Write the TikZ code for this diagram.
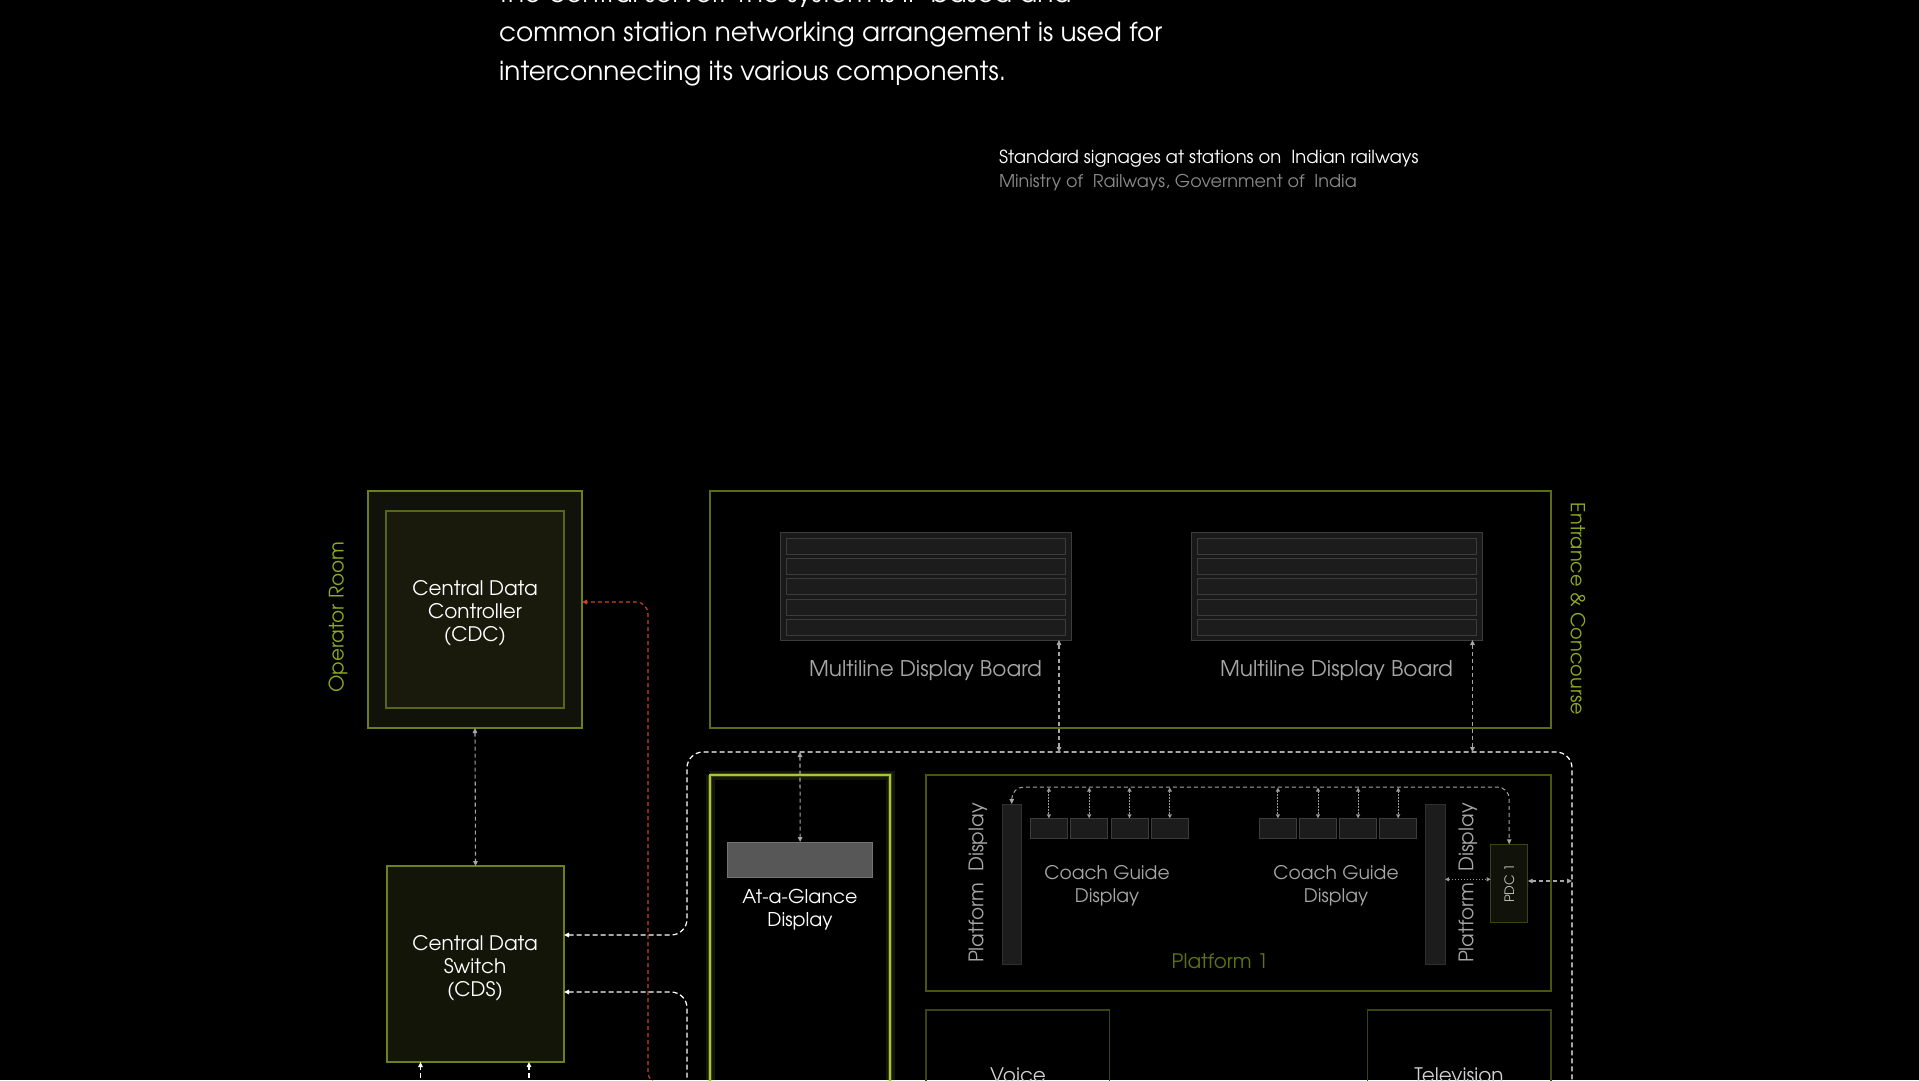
\documentclass[tikz,border=0pt]{standalone}
\usepackage{fontspec}
\setmainfont{texgyreadventor}[Extension=.otf, UprightFont=*-regular, BoldFont=*-bold]
\usetikzlibrary{arrows.meta}
\definecolor{olA}{HTML}{6B7F1C}
\definecolor{olB}{HTML}{56661A}
\definecolor{olC}{HTML}{5A6C15}
\definecolor{olD}{HTML}{48560F}
\definecolor{olE}{HTML}{3A4410}
\definecolor{grn}{HTML}{8DAA23}
\definecolor{grnD}{HTML}{5E7313}
\definecolor{glowc}{HTML}{A8C53A}
\definecolor{fillA}{HTML}{111209}
\definecolor{fillB}{HTML}{191A0C}
\definecolor{fillC}{HTML}{141509}
\definecolor{redc}{HTML}{C9441C}
\definecolor{txtg}{HTML}{A6A6A6}
\definecolor{rowf}{HTML}{1C1C1C}
\definecolor{rowd}{HTML}{3C3C3C}
\definecolor{credg}{HTML}{8A8A8A}
\tikzset{
  every node/.style={inner sep=0pt, outer sep=0pt},
  >={Triangle[length=5pt,width=4.5pt]},
  box/.style={draw, line width=1.3pt, anchor=north west, align=center, text=white},
  lbl/.style={font=\fontsize{20}{23}\selectfont, align=center},
  board/.style={draw=rowd, fill=black!90!white, line width=1pt, anchor=north west},
  rowbox/.style={draw=rowd, fill=rowf, line width=1pt, anchor=north west},
  coach/.style={draw=rowd, fill=rowf, line width=0.8pt, anchor=north west, minimum width=37, minimum height=20.4},
  pbar/.style={draw=rowd!80!black, fill=rowf, line width=0.8pt, anchor=north west, minimum width=19.5, minimum height=160},
  wconn/.style={draw=white, line width=1.2pt, dash pattern=on 5pt off 3pt},
  gconn/.style={draw=black!35!white, line width=1.1pt, dash pattern=on 4pt off 3pt},
  dconn/.style={draw=black!40!white, line width=1pt, dash pattern=on 1.5pt off 1.5pt, >={Triangle[length=4pt,width=4pt]}},
  rconn/.style={draw=redc, line width=1.2pt, dash pattern=on 4pt off 3pt},
}
\begin{document}
\begin{tikzpicture}[x=1pt,y=-1pt]
\fill[black] (0,0) rectangle (1919,1080);
\useasboundingbox (0,0) rectangle (1919,1080);

% paragraph
\begin{scope}[every node/.style={anchor=base west, text=white, font=\fontsize{26.3}{39}\selectfont, inner sep=0pt}]
\node (p1) at (499,2.5) {the central server. The system is IP based and};
\node (p2) at (499,41.5) {common station networking arrangement is used for};
\node (p3) at (499,80.5) {interconnecting its various components.};
\end{scope}

% credit
\node[anchor=base west, text=white, font=\fontsize{18}{20}\selectfont] (c1) at (999,163) {Standard signages at stations on\ \ Indian railways};
\node[anchor=base west, text=credg, font=\fontsize{17.6}{20}\selectfont] (c2) at (999,187) {Ministry of\ \ Railways, Government of\ \ India};

% operator room
\node[box, draw=olA, fill=fillA, minimum width=214, minimum height=237] (oproom) at (368,491) {};
\node[box, draw=olB, fill=fillB, minimum width=178, minimum height=197] (cdc) at (386,511) {};
\node[lbl, text=white] (cdclbl) at (475,613.5) {Central Data\\Controller\\(CDC)};
\node[lbl, text=grn, rotate=90] (oplbl) at (338,617) {Operator Room};

% CDS
\node[box, draw=olA, fill=fillC, minimum width=177, minimum height=196] (cds) at (387,866) {};
\node[lbl, text=white] (cdslbl) at (475,968) {Central Data\\Switch\\(CDS)};

% entrance & concourse
\node[box, draw=olC, minimum width=841, minimum height=237] (entr) at (710,491) {};
\node[lbl, text=grn, rotate=-90, font=\fontsize{19.3}{23}\selectfont] (entrlbl) at (1578,609) {Entrance \& Concourse};
\foreach \bx/\nm in {780/mdbA, 1191/mdbB} {
  \node[board, minimum width=291, minimum height=108] (\nm) at (\bx,532) {};
  \foreach \i in {0,...,4}
    \node[rowbox, minimum width=279, minimum height=16] (\nm-r\i) at (\bx+6,538.5+20.2*\i) {};
  \node[lbl, text=txtg, font=\fontsize{21.6}{23}\selectfont] (\nm-l) at (\bx+145.5,670.5) {Multiline Display Board};
}

% at-a-glance
\draw[glowc, opacity=0.12, line width=9pt] (710,775) -- (710,1140) (890,1140) -- (890,775) -- (710,775);
\draw[glowc, opacity=0.25, line width=4.5pt] (710,775) -- (710,1140) (890,1140) -- (890,775) -- (710,775);
\node[box, draw=glowc, line width=1.6pt, minimum width=180, minimum height=365] (agbox) at (710,775) {};
\node[anchor=north west, draw=black!55!white, fill=black!66!white, line width=1pt, minimum width=145, minimum height=35] (agd) at (727.6,842) {};
\node[lbl, text=white, font=\fontsize{19}{23}\selectfont] (aglbl) at (800,909.5) {At-a-Glance\\Display};

% platform 1
\node[box, draw=olD, minimum width=625, minimum height=216] (plat) at (926,775) {};
\node[lbl, text=grnD] (platlbl) at (1220,961) {Platform 1};
\node[pbar] (pdl) at (1002,804) {};
\node[pbar] (pdr) at (1425.5,804) {};
\node[lbl, text=txtg, rotate=90] (pdllbl) at (978,883) {Platform\ \ Display};
\node[lbl, text=txtg, rotate=90] (pdrlbl) at (1468,883) {Platform\ \ Display};
\foreach \i in {0,...,3} {
  \node[coach] (ca\i) at (1030.4+40.3*\i,818.3) {};
  \node[coach] (cb\i) at (1259.4+40.1*\i,818.3) {};
}
\node[lbl, text=txtg, font=\fontsize{18.7}{23}\selectfont] (cglA) at (1107,886) {Coach Guide\\Display};
\node[lbl, text=txtg, font=\fontsize{18.7}{23}\selectfont] (cglB) at (1336,886) {Coach Guide\\Display};
\node[anchor=north west, draw=olE, fill=fillA, line width=1pt, minimum width=37, minimum height=78.5] (pdc) at (1490.7,844.3) {};
\node[text=black!25!white, rotate=90, font=\fontsize{13}{15}\selectfont] (pdclbl) at (1509.2,883.5) {PDC 1};

% voice / television
\node[box, draw=olE, minimum width=183.5, minimum height=148] (voice) at (926,1010) {};
\node[lbl, text=black!18!white] (voicelbl) at (1018,1075) {Voice};
\node[box, draw=olE, minimum width=183.5, minimum height=148] (tv) at (1367.5,1010) {};
\node[lbl, text=black!18!white] (tvlbl) at (1459,1075) {Television};

% off-page coordinates
\coordinate (loopend) at (1572,1110);
\coordinate (cdsdown) at (687,1110);
\coordinate (inA) at (420.5,1110);
\coordinate (inB) at (529,1110);
\coordinate (busA) at (1059,752);
\coordinate (busB) at (1472.5,752);
\coordinate (busAG) at (800,752);
\coordinate (busPDC) at (1572,881);

% connectors
\draw[gconn, <->] (oproom.south) -- (cds.north);
\draw[rconn, <->, rounded corners=12pt] (voice.west) -- (648,1084) -- (648,602) -- (oproom.east |- 0,602);
\draw[wconn, <-, rounded corners=16pt] (cds.east |- 0,935) -- (687,935) -- (687,752) -- (1572,752) -- (loopend);
\draw[wconn, <-, rounded corners=16pt] (cds.east |- 0,992) -- (687,992) -- (cdsdown);
\draw[gconn, <->] (mdbA.south -| busA) -- (busA);
\draw[gconn, <->] (mdbB.south -| busB) -- (busB);
\draw[gconn, <->] (busAG) -- (agd.north);
\draw[wconn, ->] (inA) -- (cds.south -| inA);
\draw[wconn, ->] (inB) -- (cds.south -| inB);
\draw[gconn, line width=1pt, <->, rounded corners=12pt] (pdl.north) -- (pdl.north |- 0,787) -- (pdc.north |- 0,787) -- (pdc.north);
\foreach \i in {0,...,3} {
  \draw[dconn, <->] (ca\i.north |- 0,787.5) -- (ca\i.north);
  \draw[dconn, <->] (cb\i.north |- 0,787.5) -- (cb\i.north);
}
\draw[dconn, <->] (pdr.east |- 0,879.3) -- (pdc.west |- 0,879.3);
\draw[gconn, <->] (pdc.east |- 0,881) -- (busPDC);
\end{tikzpicture}
\end{document}
